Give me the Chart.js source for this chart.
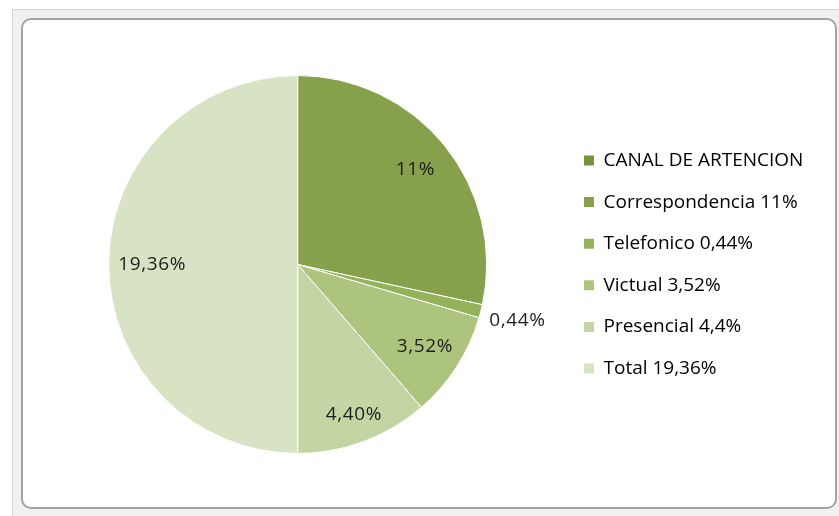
<!DOCTYPE html>
<html>
<head>
<meta charset="utf-8">
<script src="https://cdn.jsdelivr.net/npm/chart.js@4.4.0/dist/chart.umd.min.js"></script>
<style>
  body { margin: 0; background: #ffffff; width: 839px; height: 516px; overflow: hidden; position: relative; }
  #frame { position: absolute; left: 12px; top: 9px; width: 827px; height: 507px; background: #f1f1f1; border-left: 1px solid #d6d6d6; border-top: 1px solid #d6d6d6; }
  #area { position: absolute; left: 21px; top: 18px; width: 812px; height: 487px; background: #ffffff; border: 2px solid #a3a3a3; border-radius: 10px; }
  #chart { position: absolute; left: 0; top: 0; }
</style>
</head>
<body>
<div id="frame"></div>
<div id="area"></div>
<canvas id="chart" width="839" height="516"></canvas>
<script>
// Chart data
const categories = ["CANAL DE ARTENCION", "Correspondencia 11%", "Telefonico 0,44%", "Victual 3,52%", "Presencial 4,4%", "Total 19,36%"];
const values = [0, 11, 0.44, 3.52, 4.40, 19.36];
const sliceLabels = ["", "11%", "0,44%", "3,52%", "4,40%", "19,36%"];
const colors = ["#77933c", "#86a04c", "#94b25a", "#acc47c", "#c3d5a3", "#d7e3c3"];

// where each percentage sits, as a share of the radius
const labelRadius = [0, 0.8, 1.2, 0.8, 0.85, 0.77];

const fontFamily = "'Open Sans', 'Noto Sans', sans-serif";
const legendFontSize = 19;
const legendPadding = 22.6;

// Measure the widest legend text so the legend lands where it should
const measure = document.createElement("canvas").getContext("2d");
measure.font = legendFontSize + "px " + fontFamily;
const maxText = Math.max(...categories.map((c) => measure.measureText(c).width));
const legendWidth = legendPadding + 10 + legendFontSize / 2 + maxText + 10;
const legendLeft = 584 - legendPadding;
const padRight = Math.max(0, 839 - legendLeft - legendWidth);

// Draws the percentage labels on the slices
const sliceLabelPlugin = {
    id: "sliceLabels",
    afterDatasetsDraw(chart) {
        const ctx = chart.ctx;
        const meta = chart.getDatasetMeta(0);
        ctx.save();
        ctx.font = "19px " + fontFamily;
        ctx.letterSpacing = "0.6px";
        ctx.fillStyle = "#1e1e1e";
        ctx.textAlign = "center";
        ctx.textBaseline = "middle";
        meta.data.forEach((arc, i) => {
            if (!sliceLabels[i]) return;
            const p = arc.getProps(["x", "y", "startAngle", "endAngle", "outerRadius"], true);
            const mid = (p.startAngle + p.endAngle) / 2;
            const r = p.outerRadius * labelRadius[i];
            ctx.fillText(sliceLabels[i], p.x + Math.cos(mid) * r, p.y + Math.sin(mid) * r);
        });
        ctx.restore();
    },
};

new Chart(document.getElementById("chart"), {
    type: "pie",
    data: {
        labels: categories,
        datasets: [{
            data: values,
            backgroundColor: colors,
            borderColor: "#ffffff",
            borderWidth: 1,
        }],
    },
    options: {
        responsive: false,
        animation: false,
        devicePixelRatio: 1,
        layout: {
            padding: { left: 34, right: padRight, top: 75, bottom: 62 },
        },
        plugins: {
            tooltip: { enabled: false },
            legend: {
                position: "right",
                labels: {
                    boxWidth: 10,
                    boxHeight: 10,
                    padding: legendPadding,
                    color: "#222222",
                    font: { size: legendFontSize, family: fontFamily },
                    generateLabels: (chart) => categories.map((text, i) => ({
                        text: text,
                        fillStyle: colors[i],
                        strokeStyle: colors[i],
                        lineWidth: 0,
                        index: i,
                    })),
                },
            },
        },
    },
    plugins: [sliceLabelPlugin],
});
</script>
</body>
</html>
